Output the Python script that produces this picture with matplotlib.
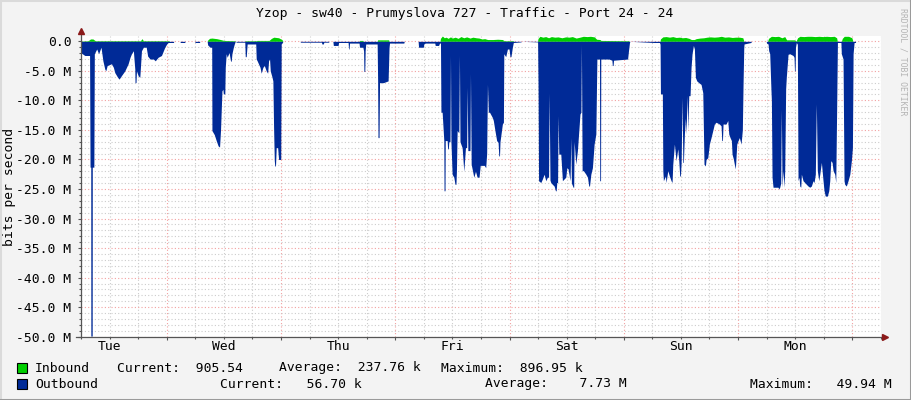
import matplotlib
matplotlib.use('Agg')
import matplotlib.pyplot as plt
import matplotlib.transforms as mtransforms
from matplotlib.patches import Rectangle
from matplotlib.lines import Line2D
from matplotlib.ticker import FixedLocator, MultipleLocator

W, H = 911, 400
FONT = 'DejaVu Sans Mono'
FS = 9.4

title = 'Yzop - sw40 - Prumyslova 727 - Traffic - Port 24 - 24'
days = ['Tue', 'Wed', 'Thu', 'Fri', 'Sat', 'Sun', 'Mon']
y_labels = ['-50.0 M', '-45.0 M', '-40.0 M', '-35.0 M', '-30.0 M', '-25.0 M',
            '-20.0 M', '-15.0 M', '-10.0 M', '-5.0 M', '0.0']

# (hours since Tue 00:00, Mbit/s) - outbound is drawn negative
out_tue = [(6.0, -0.3), (6.1, -2.0), (6.8, -2.4), (7.8, -2.4), (7.9, -21.3), (8.05, -21.3),
           (8.07, -49.9), (8.35, -49.9), (8.37, -21.3), (8.7, -21.3), (8.8, -2.1), (9.3, -1.3),
           (9.7, -2.1), (10.2, -1.0), (10.6, -3.3), (11.0, -4.7), (11.2, -5.0), (11.5, -4.1),
           (12.4, -3.8), (12.8, -4.4), (13.1, -5.3), (13.7, -6.1), (14.0, -6.4), (14.5, -5.8),
           (15.2, -5.0), (15.9, -3.8), (16.3, -2.7), (16.6, -2.1), (17.0, -1.6), (17.3, -4.7),
           (17.35, -7.0), (17.55, -7.0), (17.65, -5.0), (18.0, -5.8), (18.35, -6.1), (18.7, -1.6),
           (19.1, -1.0), (19.7, -1.0), (20.0, -2.5), (20.5, -3.0), (21.2, -3.0), (21.6, -3.3),
           (22.2, -2.7), (22.9, -2.4), (23.3, -1.6), (23.6, -1.0), (24.0, -0.45), (24.3, -0.2),
           (25.4, -0.2), (25.5, 0), (26.8, 0), (26.85, -0.2), (27.8, -0.2), (27.85, 0),
           (29.9, 0), (29.95, -0.2), (30.9, -0.2), (30.95, 0)]
out_wed = [(32.5, 0), (32.6, -0.6), (33.1, -1.0), (33.45, -1.0), (33.5, -15.1), (34.0, -15.8),
           (34.4, -16.8), (34.8, -17.7), (35.1, -17.9), (35.3, -15.1), (35.4, -12.9), (35.6, -8.4),
           (35.8, -8.1), (35.9, -8.9), (36.2, -8.9), (36.3, -4.4), (36.5, -2.1), (36.7, -2.7),
           (37.1, -1.9), (37.4, -3.3), (37.55, -3.4), (37.7, -2.1), (38.0, -1.0), (38.2, -0.45),
           (38.4, 0), (38.5, 0), (38.6, -0.15), (40.4, -0.15), (40.5, -2.6), (40.7, -2.6),
           (40.9, -0.45), (42.7, -0.45), (42.8, -3.0), (43.0, -3.3), (43.6, -4.4), (43.85, -5.4),
           (44.2, -4.4), (44.5, -4.1), (44.9, -5.0), (45.2, -5.4), (45.4, -3.3), (45.6, -3.0),
           (45.75, -5.0), (46.1, -6.0), (46.3, -6.7), (46.45, -14.6), (46.6, -20.2), (46.7, -21.1),
           (46.85, -21.1), (47.0, -18.0), (47.3, -18.0), (47.5, -20.0), (47.95, -20.0),
           (48.05, -0.45), (48.3, -0.2), (48.4, 0)]
out_thu = [(52.0, 0), (52.1, -0.15), (56.5, -0.15), (56.6, -0.45), (56.9, -0.45), (57.0, -0.15),
           (58.0, -0.15), (58.1, 0), (58.9, 0), (59.0, -0.7), (60.0, -0.7), (60.1, -0.2),
           (62.1, -0.2), (62.2, -1.3), (62.3, -1.3), (62.4, -0.3), (64.4, -0.3), (64.5, -1.0),
           (65.2, -1.0), (65.35, -1.6), (65.42, -5.1), (65.6, -5.1), (65.68, -1.6), (65.8, -0.45),
           (68.2, -0.45), (68.3, -6.7), (68.38, -16.3), (68.6, -16.3), (68.7, -7.0), (69.5, -7.0),
           (70.5, -6.7), (70.7, -1.0), (70.8, -0.3), (73.8, -0.3), (73.9, 0), (76.8, 0),
           (76.9, -1.0), (77.9, -1.0), (78.0, -0.45), (78.3, -0.3), (80.3, -0.3), (80.4, -0.7),
           (81.1, -0.7), (81.3, -0.3)]
out_fri = [(81.5, -0.3), (81.6, -12.0), (81.85, -12.0), (82.2, -16.8), (82.25, -25.3),
           (82.45, -25.3), (82.5, -16.8), (82.9, -16.8), (83.0, -18.2), (83.15, -18.2),
           (83.25, -17.0), (83.5, -17.0), (83.6, -2.4), (83.7, -17.0), (83.95, -22.5),
           (84.3, -23.0), (84.55, -24.2), (84.75, -24.2), (84.85, -22.0), (85.0, -15.1),
           (85.35, -15.5), (85.48, -2.4), (85.6, -17.0), (86.05, -18.0), (86.4, -22.0),
           (86.75, -18.0), (87.0, -18.0), (87.1, -7.8), (87.25, -18.5), (87.7, -18.5),
           (87.8, -5.5), (87.95, -20.8), (88.5, -23.0), (88.85, -22.0), (89.2, -23.0),
           (89.6, -23.0), (89.85, -21.0), (90.7, -21.0), (91.0, -21.4), (91.2, -19.0),
           (91.37, -7.3), (91.55, -12.0), (91.8, -12.0), (92.4, -12.9), (92.6, -13.4),
           (93.0, -15.4), (93.3, -16.8), (93.6, -17.1), (93.75, -19.4), (93.9, -19.4),
           (94.0, -17.0), (94.5, -14.0), (94.72, -13.7), (94.8, -2.1), (95.2, -2.6), (95.56, -1.3),
           (95.9, -1.3), (96.1, -2.6), (96.3, -2.6), (96.6, -1.0), (96.8, -0.2), (98.4, -0.1),
           (98.5, 0)]
out_sat = [(101.9, -0.1), (102.0, -8.0), (102.1, -23.6), (102.57, -23.9), (102.9, -23.3),
           (103.27, -22.5), (103.62, -23.6), (103.96, -23.0), (104.2, -23.0), (104.32, -8.8),
           (104.5, -23.5), (104.67, -23.9), (105.0, -24.2), (105.37, -24.5), (105.65, -25.3),
           (105.8, -25.3), (105.93, -23.9), (106.1, -23.9), (106.2, -12.6), (106.35, -19.1),
           (106.77, -19.1), (107.11, -23.6), (107.46, -23.3), (107.82, -23.0), (108.03, -21.4),
           (108.3, -21.6), (108.72, -23.6), (108.87, -16.3), (109.0, -24.0), (109.21, -24.4),
           (109.35, -24.7), (109.48, -24.7), (109.57, -17.0), (109.92, -20.8), (110.26, -18.5),
           (110.8, -12.3), (111.0, -12.0), (111.1, -0.5), (111.25, -21.9), (111.52, -21.9),
           (112.03, -22.5), (112.37, -23.0), (112.65, -24.5), (112.8, -24.5), (113.08, -22.5),
           (113.41, -21.4), (113.77, -17.4), (114.13, -15.7), (114.35, -3.0), (114.9, -3.0),
           (114.95, -23.6), (115.12, -23.6), (115.17, -3.0), (116.9, -3.0), (117.5, -3.2),
           (117.6, -4.1), (117.75, -4.1), (117.85, -3.2), (120.8, -3.0), (121.0, -1.5),
           (121.2, -0.2), (121.3, 0)]
out_sun = [(126.4, -0.2), (127.5, -0.2), (127.62, -0.5), (127.7, -8.9), (128.1, -8.9),
           (128.2, -21.9), (128.32, -23.6), (128.74, -22.8), (128.88, -23.9), (129.24, -21.9),
           (129.58, -22.8), (129.93, -23.6), (130.14, -23.9), (130.29, -20.8), (130.63, -17.4),
           (130.98, -20.2), (131.34, -18.2), (131.55, -20.2), (131.75, -22.8), (131.9, -22.8),
           (132.04, -20.5), (132.25, -9.5), (132.4, -20.5), (132.52, -20.5), (132.73, -15.7),
           (132.94, -13.0), (133.08, -15.7), (133.29, -9.2), (133.45, -15.0), (133.65, -9.2),
           (133.92, -9.2), (134.13, -4.4), (134.34, -2.1), (134.62, -0.7), (134.83, -1.3),
           (135.04, -6.1), (135.33, -6.7), (135.75, -7.0), (136.23, -7.3), (136.59, -8.7),
           (136.85, -20.8), (137.14, -21.1), (137.28, -20.0), (137.64, -19.7), (137.97, -17.4),
           (138.33, -16.3), (138.69, -15.1), (139.02, -14.0), (139.38, -13.7), (140.07, -14.0),
           (140.43, -14.3), (140.58, -16.8), (140.72, -16.8), (140.85, -14.0), (141.48, -14.0),
           (141.84, -13.4), (142.05, -15.7), (142.32, -16.3), (142.6, -16.8), (142.74, -19.1),
           (143.01, -19.9), (143.22, -20.8), (143.43, -21.6), (143.73, -17.4), (144.0, -16.8),
           (144.27, -16.3), (144.63, -17.4), (144.9, -15.0), (145.05, -7.3), (145.2, -1.0),
           (145.26, -0.45), (146.7, -0.2), (146.8, 0)]
out_mon = [(149.9, 0), (150.0, -0.3), (150.3, -0.45), (150.44, -1.6), (150.65, -2.1),
           (150.9, -8.0), (151.0, -10.0), (151.14, -23.0), (151.35, -24.7), (152.4, -24.7),
           (152.54, -25.0), (152.75, -24.7), (152.96, -24.0), (153.09, -11.5), (153.24, -24.7),
           (153.45, -21.9), (153.66, -24.7), (153.8, -21.9), (154.0, -8.0), (154.14, -6.0),
           (154.5, -2.2), (154.85, -2.1), (155.55, -2.4), (155.76, -2.7), (155.85, -5.0),
           (155.98, -5.0), (156.06, -1.0), (156.24, -0.2), (156.45, -0.5), (156.6, -23.6),
           (156.81, -23.0), (156.96, -24.5), (157.17, -24.7), (157.3, -22.5), (157.65, -23.6),
           (158.0, -23.9), (158.34, -24.2), (158.7, -24.5), (159.05, -24.7), (159.39, -24.5),
           (159.75, -23.6), (159.96, -23.9), (160.23, -22.5), (160.44, -10.6), (160.65, -21.9),
           (160.95, -23.6), (161.16, -22.5), (161.5, -20.5), (161.85, -23.6), (162.06, -25.3),
           (162.33, -26.2), (162.75, -26.2), (163.05, -25.3), (163.26, -23.6), (163.47, -20.2),
           (163.75, -20.5), (163.96, -21.9), (164.31, -22.5), (164.52, -23.9), (164.73, -10.0),
           (164.87, -0.2), (165.6, -0.2), (165.69, -2.1), (166.05, -3.0), (166.26, -23.6),
           (166.4, -24.2), (166.74, -24.5), (167.1, -23.6), (167.47, -22.5), (167.8, -20.2),
           (168.02, -18.0), (168.16, -2.1), (168.37, -0.2), (168.65, -0.2), (168.7, 0)]

inbound = [(6.0, 0.05), (7.5, 0.1), (8.0, 0.4), (8.5, 0.4), (9.0, 0.1), (17.0, 0.1), (18.5, 0.1),
           (18.8, 0.45), (19.1, 0.1), (24.5, 0.1), (24.6, 0),
           (32.5, 0), (32.6, 0.2), (33.0, 0.5), (33.5, 0.55), (34.5, 0.45), (35.3, 0.3), (36.0, 0.15),
           (38.3, 0.1), (38.4, 0), (40.4, 0), (40.5, 0.1), (42.8, 0.1), (43.0, 0.15), (45.5, 0.15),
           (46.0, 0.5), (46.5, 0.7), (47.5, 0.6), (48.2, 0.3), (48.4, 0),
           (64.4, 0), (64.5, 0.15), (65.2, 0.15), (65.3, 0), (68.2, 0), (68.3, 0.25), (70.6, 0.25),
           (70.7, 0),
           (81.4, 0), (81.5, 0.5), (81.9, 0.9), (82.3, 0.6), (82.7, 0.7), (83.1, 0.5), (83.6, 0.75),
           (84.0, 0.55), (84.6, 0.7), (85.2, 0.5), (85.8, 0.8), (86.4, 0.6), (87.0, 0.75),
           (87.7, 0.55), (88.3, 0.7), (89.0, 0.6), (89.6, 0.55), (90.2, 0.4), (90.8, 0.45),
           (91.4, 0.3), (92.5, 0.3), (93.5, 0.35), (94.5, 0.3), (94.9, 0.1), (96.8, 0.1), (96.9, 0),
           (101.9, 0), (102.0, 0.5), (102.4, 0.85), (103.0, 0.7), (103.6, 0.8), (104.2, 0.6),
           (104.8, 0.8), (105.5, 0.7), (106.2, 0.75), (107.0, 0.6), (107.8, 0.75), (108.5, 0.7),
           (109.2, 0.8), (110.0, 0.55), (110.8, 0.7), (111.5, 0.85), (112.3, 0.8), (113.0, 0.85),
           (113.8, 0.75), (114.3, 0.35), (115.0, 0.3), (115.2, 0.15), (121.0, 0.1), (121.2, 0),
           (127.6, 0), (127.7, 0.4), (128.2, 0.75), (128.9, 0.8), (129.6, 0.7), (130.3, 0.8),
           (131.0, 0.65), (131.7, 0.7), (132.3, 0.6), (133.0, 0.65), (133.7, 0.5), (134.2, 0.3),
           (134.8, 0.3), (135.2, 0.45), (136.0, 0.55), (136.8, 0.6), (137.5, 0.7), (138.2, 0.75),
           (139.0, 0.7), (139.8, 0.75), (140.5, 0.85), (141.2, 0.7), (142.0, 0.75), (142.8, 0.65),
           (143.5, 0.7), (144.3, 0.7), (145.0, 0.6), (145.2, 0.05), (145.3, 0),
           (150.2, 0), (150.4, 0.5), (151.0, 0.85), (151.8, 0.8), (152.5, 0.85), (153.2, 0.6),
           (153.8, 0.8), (154.2, 0.25), (155.8, 0.25), (156.2, 0.05), (156.5, 0.6), (157.0, 0.85),
           (157.8, 0.8), (158.6, 0.85), (159.4, 0.85), (160.2, 0.8), (161.0, 0.85), (161.8, 0.8),
           (162.6, 0.85), (163.4, 0.8), (164.2, 0.85), (164.7, 0.6), (164.85, 0), (165.7, 0),
           (165.9, 0.5), (166.3, 0.85), (167.2, 0.85), (167.9, 0.6), (168.1, 0.05), (168.2, 0)]

legend_in = [('Inbound', 35), ('Current:  905.54', 117), ('Average:  237.76 k', 279),
             ('Maximum:  896.95 k', 441)]
legend_out = [('Outbound', 35), ('Current:   56.70 k', 220), ('Average:    7.73 M', 485),
              ('Maximum:   49.94 M', 750)]

plt.rcParams['font.family'] = FONT
plt.rcParams['font.size'] = FS

fig = plt.figure(figsize=(W / 100, H / 100), dpi=100)
fig.patch.set_facecolor('#F3F3F3')

# plot area in pixels: x 81..881, y 36..337
ax = fig.add_axes([81 / W, 1 - 336.7 / H, 799.9 / W, 300.7 / H])
ax.set_facecolor('white')
ax.set_xlim(6, 174)
ax.set_ylim(-50, 0.9)

outbound = out_tue + out_wed + out_thu + out_fri + out_sat + out_sun + out_mon
ox, oy = zip(*outbound)
ix, iy = zip(*inbound)
ax.fill_between(ix, iy, 0, color='#00CF00', lw=0, zorder=3)
ax.fill_between(ox, oy, 0, color='#002A97', lw=0, zorder=3)

# grid
ax.xaxis.set_major_locator(FixedLocator(list(range(24, 174, 24))))
ax.xaxis.set_minor_locator(FixedLocator([h for h in range(6, 175, 6) if h % 24]))
ax.yaxis.set_major_locator(FixedLocator(list(range(-50, 1, 5))))
ax.yaxis.set_minor_locator(MultipleLocator(1))
ax.set_xticklabels([])
ax.set_yticklabels(y_labels)
ax.set_axisbelow(True)
ax.grid(which='major', color='#F2A0A0', ls=(0, (1, 2)), lw=0.8)
ax.grid(which='minor', color='#CCCCCC', ls=(0, (1, 2)), lw=0.8)
ax.tick_params(which='both', direction='out', color='#555555', width=0.8)
ax.tick_params(which='major', length=2.5)
ax.tick_params(which='minor', length=1.5)
ax.tick_params(axis='y', pad=4.3, labelsize=FS)
for s in ax.spines.values():
    s.set_visible(False)

# axis lines with arrows
ax.plot([6, 6], [-50, 1.6], color='#555555', lw=0.9, clip_on=False, zorder=5)
ax.plot([4.95, 174.6], [-50, -50], color='#555555', lw=0.9, clip_on=False, zorder=5)
ax.plot([6], [1.75], marker='^', ms=4.5, color='#8B1A1A', clip_on=False, zorder=6)
ax.plot([174.95], [-50], marker='>', ms=4.5, color='#8B1A1A', clip_on=False, zorder=6)

# day labels at noon
trans = mtransforms.blended_transform_factory(ax.transData, fig.transFigure)
for i, d in enumerate(days):
    ax.text(12 + 24 * i, 1 - 347 / H, d, transform=trans, ha='center', va='center')

fig.text(256 / W, 1 - 13 / H, title, ha='left', va='center')
fig.text(10 / W, 1 - 187 / H, 'bits per second', rotation=90, ha='center', va='center')
fig.text(903.5 / W, 1 - 8 / H, 'RRDTOOL / TOBI OETIKER', rotation=270, ha='center', va='top',
         color='#B4B4B4', fontsize=5.9)

# legend
for row, (items, col, yc) in enumerate([(legend_in, '#00CF00', 368), (legend_out, '#002A97', 384)]):
    fig.add_artist(Rectangle((17 / W, 1 - (yc + 5) / H), 10 / W, 10 / H, transform=fig.transFigure,
                             facecolor=col, edgecolor='black', lw=0.8))
    for txt, x in items:
        fig.text(x / W, 1 - yc / H, txt, ha='left', va='center')

# image border
fig.add_artist(Line2D([0, 1], [1, 1], color='#DADADA', lw=2.2, transform=fig.transFigure))
fig.add_artist(Line2D([0, 0], [0, 1], color='#DADADA', lw=2.2, transform=fig.transFigure))
fig.add_artist(Line2D([0, 1], [0, 0], color='#9A9A9A', lw=2.2, transform=fig.transFigure))
fig.add_artist(Line2D([1, 1], [0, 1], color='#9A9A9A', lw=2.2, transform=fig.transFigure))

fig.savefig('out.png', dpi=100, facecolor=fig.get_facecolor())
